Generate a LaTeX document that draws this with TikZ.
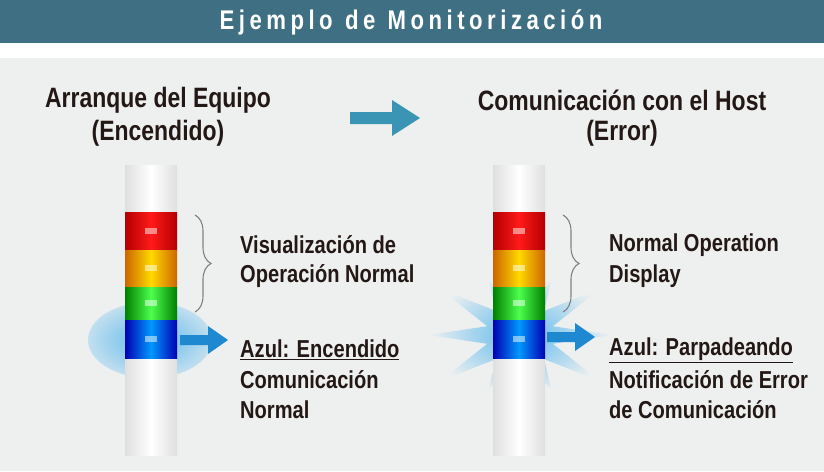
\documentclass[tikz,border=0pt]{standalone}
\usepackage{fontspec}
\setmainfont{Liberation Sans}[FakeStretch=0.82]
\usetikzlibrary{decorations.pathreplacing}
\definecolor{head}{HTML}{3F6F82}
\definecolor{bg}{HTML}{EEF0F0}
\definecolor{ink}{HTML}{231815}
\definecolor{arrowblue}{HTML}{1E88D0}
\definecolor{bigarrow}{HTML}{3A95B4}
\definecolor{glow}{HTML}{5BB8EC}
\tikzset{
  label/.style={anchor=west,font=\bfseries\fontsize{24.5}{26}\selectfont,text=ink,inner sep=0},
  title/.style={font=\bfseries\fontsize{28}{30}\selectfont,text=ink,inner sep=0},
}
\newcommand{\tower}[1]{%
  \fill[white!90!gray] (#1,165) rectangle ++(52,290);
  \shade[left color=gray!25,right color=gray!25,middle color=white] (#1,165) rectangle ++(52,47);
  \shade[left color=gray!25,right color=gray!25,middle color=white] (#1,358) rectangle ++(52,97);
  \shade[left color=red!70!black,right color=red!70!black,middle color=red!90!white] (#1,212) rectangle ++(52,38);
  \shade[left color=orange!80!black,right color=orange!80!black,middle color=yellow!70!orange] (#1,250) rectangle ++(52,37);
  \shade[left color=green!50!black,right color=green!50!black,middle color=green!70!white] (#1,287) rectangle ++(52,33);
  \shade[left color=blue!70!black,right color=blue!70!black,middle color=cyan!60!blue] (#1,320) rectangle ++(52,38);
  \foreach \y in {231,268,303,339} \fill[white,opacity=0.5] (#1+20,\y-3) rectangle ++(12,6);
}
\begin{document}
\begin{tikzpicture}[x=1pt,y=-1pt]
\useasboundingbox (0,0) rectangle (824,471);
\fill[white] (0,0) rectangle (824,471);
\fill[bg] (0,58) rectangle (824,471);
\fill[head] (0,0) rectangle (824,43);
\node[font=\bfseries\fontsize{27}{28}\selectfont,text=white] (heading) at (411,22) {E\,j\,e\,m\,p\,l\,o\ \ d\,e\ \ M\,o\,n\,i\,t\,o\,r\,i\,z\,a\,c\,i\,ó\,n};
% column titles
\node[title] (leftA) at (158,100) {Arranque del Equipo};
\node[title] (leftB) at (158,133) {(Encendido)};
\node[title] (rightA) at (622,100) {Comunicación con el Host};
\node[title] (rightB) at (622,133) {(Error)};
\fill[bigarrow] (350,112) -- (392,112) -- (392,100) -- (420,118) -- (392,136) -- (392,124) -- (350,124) -- cycle;
% glows
\shade[inner color=glow,outer color=glow!30!bg] (150,340) ellipse (62 and 38);
\shade[inner color=glow,outer color=bg,shift={(520,335)}] (0:92)
  \foreach \a in {15,30,...,360} {-- ({\a}:{mod(\a,30)==0 ? (abs(cos(\a))>0.6 ? 92 : 62) : 34})} -- cycle;
\tower{125}
\tower{493}
% brackets
\draw[gray,line width=1.1pt,decorate,decoration={brace,amplitude=16pt}] (195,215) -- (195,312);
\draw[gray,line width=1.1pt,decorate,decoration={brace,amplitude=16pt}] (563,215) -- (563,312);
% arrows
\fill[arrowblue] (180,335) -- (208,335) -- (208,326) -- (228,340) -- (208,354) -- (208,345) -- (180,345) -- cycle;
\fill[arrowblue] (547,332) -- (575,332) -- (575,323) -- (595,337) -- (575,351) -- (575,342) -- (547,342) -- cycle;
% left texts
\node[label] (l1) at (240,245) {Visualización de};
\node[label] (l2) at (240,276) {Operación Normal};
\node[label] (l3) at (240,350) {\underline{Azul: Encendido}};
\node[label] (l4) at (240,380) {Comunicación};
\node[label] (l5) at (240,410) {Normal};
% right texts
\node[label] (r1) at (609,245) {Normal Operation};
\node[label] (r2) at (609,276) {Display};
\node[label] (r3) at (609,350) {\underline{Azul: Parpadeando}};
\node[label] (r4) at (609,380) {Notificación de Error};
\node[label] (r5) at (609,410) {de Comunicación};
\end{tikzpicture}
\end{document}
